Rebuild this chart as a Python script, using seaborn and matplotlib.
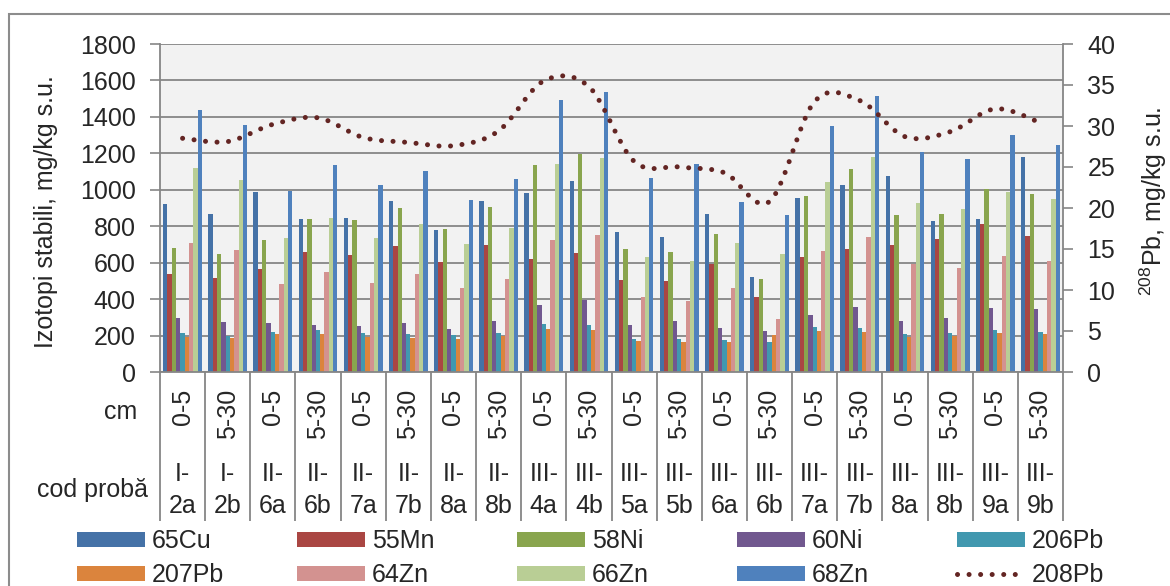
"""
Izotopi stabili - bare grupate + 208Pb pe axa secundara
"""
import numpy as np
import pandas as pd
import matplotlib
matplotlib.use("Agg")
import matplotlib.pyplot as plt
import matplotlib.transforms as mtransforms
from matplotlib.path import Path
from matplotlib.patches import PathPatch, Patch, Rectangle
from matplotlib.lines import Line2D
import seaborn as sns

# Data
samples = ["I-2a", "I-2b", "II-6a", "II-6b", "II-7a", "II-7b", "II-8a", "II-8b",
           "III-4a", "III-4b", "III-5a", "III-5b", "III-6a", "III-6b", "III-7a",
           "III-7b", "III-8a", "III-8b", "III-9a", "III-9b"]
depths = ["0-5", "5-30"] * 10

cu65 = [923, 868, 990, 841, 846, 941, 782, 941, 983, 1049, 766, 742, 866, 523, 956, 1025, 1078, 826, 841, 1180]
mn55 = [536, 518, 567, 660, 642, 693, 604, 695, 618, 655, 507, 498, 591, 412, 631, 675, 699, 728, 813, 748]
ni58 = [680, 649, 726, 841, 835, 901, 786, 908, 1136, 1195, 673, 658, 760, 512, 965, 1114, 859, 866, 1005, 979]
ni60 = [295, 274, 268, 257, 250, 268, 237, 281, 365, 394, 259, 281, 244, 224, 312, 354, 281, 299, 350, 343]
pb206 = [212, 199, 219, 230, 212, 206, 204, 212, 261, 257, 181, 179, 175, 166, 246, 239, 208, 212, 233, 219]
pb207 = [193, 188, 206, 208, 190, 188, 181, 197, 235, 232, 168, 162, 162, 202, 223, 219, 190, 197, 213, 208]
zn64 = [709, 671, 481, 549, 491, 538, 461, 509, 724, 753, 410, 392, 461, 292, 662, 742, 591, 571, 635, 609]
zn66 = [1121, 1056, 737, 843, 737, 813, 704, 790, 1142, 1176, 629, 607, 708, 649, 1043, 1178, 928, 897, 990, 952]
zn68 = [1437, 1357, 992, 1136, 1025, 1103, 945, 1060, 1490, 1539, 1067, 1143, 932, 862, 1351, 1515, 1209, 1169, 1302, 1247]
pb208 = [28.5, 28.1, 30.2, 31.0, 28.6, 28.0, 27.6, 29.4, 35.5, 34.8, 25.7, 25.0, 24.3, 20.8, 33.0, 33.1, 28.7, 29.3, 32.1, 30.4]

isotopes = ["65Cu", "55Mn", "58Ni", "60Ni", "206Pb", "207Pb", "64Zn", "66Zn", "68Zn"]
series = [cu65, mn55, ni58, ni60, pb206, pb207, zn64, zn66, zn68]
colors = ["#4572A7", "#AA4643", "#89A54E", "#71588F", "#4198AF",
          "#DB843D", "#D39290", "#B9CE95", "#4F81BD"]
line_color = "#632523"
grid_color = "#868686"

# Settings
sns.set_theme(style="white")
plt.rcParams["font.family"] = ["Liberation Sans", "DejaVu Sans"]
plt.rcParams["mathtext.fontset"] = "custom"
plt.rcParams["mathtext.rm"] = "Liberation Sans"
plt.rcParams["mathtext.default"] = "regular"
FS = 18
W, H = 1170, 586


def smooth_path(xs, ys):
    """Catmull-Rom style bezier path through the points (like Excel smoothed line)."""
    pts = np.column_stack([xs, ys]).astype(float)
    ext = np.vstack([pts[0], pts, pts[-1]])
    verts, codes = [pts[0]], [Path.MOVETO]
    for i in range(len(pts) - 1):
        p0, p1, p2, p3 = ext[i], ext[i + 1], ext[i + 2], ext[i + 3]
        verts += [p1 + (p2 - p0) / 6, p2 - (p3 - p1) / 6, p2]
        codes += [Path.CURVE4] * 3
    return Path(verts, codes)


df = pd.DataFrame({
    "sample": np.tile(samples, len(isotopes)),
    "isotope": np.repeat(isotopes, len(samples)),
    "value": np.concatenate(series),
})

fig = plt.figure(figsize=(W / 100, H / 100), dpi=100)
ax = fig.add_axes([160 / W, 1 - 372 / H, (1063 - 160) / W, (372 - 44) / H])

sns.barplot(data=df, x="sample", y="value", hue="isotope", order=samples,
            hue_order=isotopes, palette=colors, saturation=1, width=0.86, gap=0,
            errorbar=None, legend=False, linewidth=0, ax=ax)

ax.set_xlim(-0.5, len(samples) - 0.5)
ax.set_ylim(0, 1800)
ax.set_yticks(np.arange(0, 1801, 200))
ax.set_facecolor("#F2F2F2")
ax.yaxis.grid(True, color=grid_color, lw=1.3)
ax.set_axisbelow(True)
ax.set_xticks([])
ax.set_xlabel("")
ax.tick_params(axis="y", left=True, length=7, width=1.2, color=grid_color,
               labelsize=FS, pad=10.5)
for side in ["left", "right", "bottom"]:
    ax.spines[side].set_color(grid_color)
    ax.spines[side].set_linewidth(1.3)
ax.spines["top"].set_visible(False)
ax.set_ylabel("Izotopi stabili, mg/kg s.u.", fontsize=FS)
ax.yaxis.set_label_coords(-0.113, 0.49)

# 208Pb on secondary axis
ax2 = ax.twinx()
ax2.set_ylim(0, 40)
ax2.set_yticks(np.arange(0, 41, 5))
ax2.tick_params(axis="y", right=True, length=7, width=1.2, color=grid_color,
                labelsize=FS, pad=10.5)
for s in ax2.spines.values():
    s.set_visible(False)
ax2.add_patch(PathPatch(smooth_path(np.arange(len(samples)), pb208), fill=False,
                        edgecolor=line_color, lw=3.6, linestyle=(0, (0.01, 2.3)),
                        capstyle="round"))
ax2.set_ylabel("$^{208}$Pb, mg/kg s.u.", fontsize=FS)
ax2.yaxis.set_label_coords(1.083, 0.52)

# category table below the plot
trans = mtransforms.blended_transform_factory(ax.transData, ax.transAxes)
bounds = np.arange(len(samples) + 1) - 0.5
ax.vlines(bounds, -0.455, 0, transform=trans, color=grid_color, lw=1.3, clip_on=False)
for i, (code, dep) in enumerate(zip(samples, depths)):
    top, bottom = code.split("-")
    ax.text(i, -0.052, dep, transform=trans, rotation=90, ha="center", va="top", fontsize=FS)
    ax.text(i, -0.311, top + "-", transform=trans, ha="center", va="center", fontsize=FS)
    ax.text(i, -0.409, bottom, transform=trans, ha="center", va="center", fontsize=FS)
fig.text(137 / W, 1 - 412 / H, "cm", ha="right", va="center", fontsize=FS)
fig.text(148 / W, 1 - 490 / H, "cod probă", ha="right", va="center", fontsize=FS)

# legend (two rows, five fixed-width columns)
handles = [Patch(facecolor=c, edgecolor="none") for c in colors]
handles.append(Line2D([], [], color=line_color, lw=3.6, linestyle=(0, (0.01, 2.3)),
                      dash_capstyle="round"))
labels = isotopes + ["208Pb"]
for col in range(5):
    fig.legend([handles[col], handles[col + 5]], [labels[col], labels[col + 5]],
               loc="upper left", bbox_to_anchor=((77 + col * 220) / W, 1 - 529 / H),
               frameon=False, fontsize=FS, borderpad=0, borderaxespad=0,
               handlelength=2.72, handleheight=0.56, handletextpad=0.28,
               labelspacing=0.42)

# outer chart frame
fig.add_artist(Rectangle((9 / W, -0.1), 1.2, 1.1 - 14 / H, transform=fig.transFigure,
                         fill=False, edgecolor="#8C8C8C", lw=1.5, clip_on=False))

fig.savefig("out.png", dpi=100)
